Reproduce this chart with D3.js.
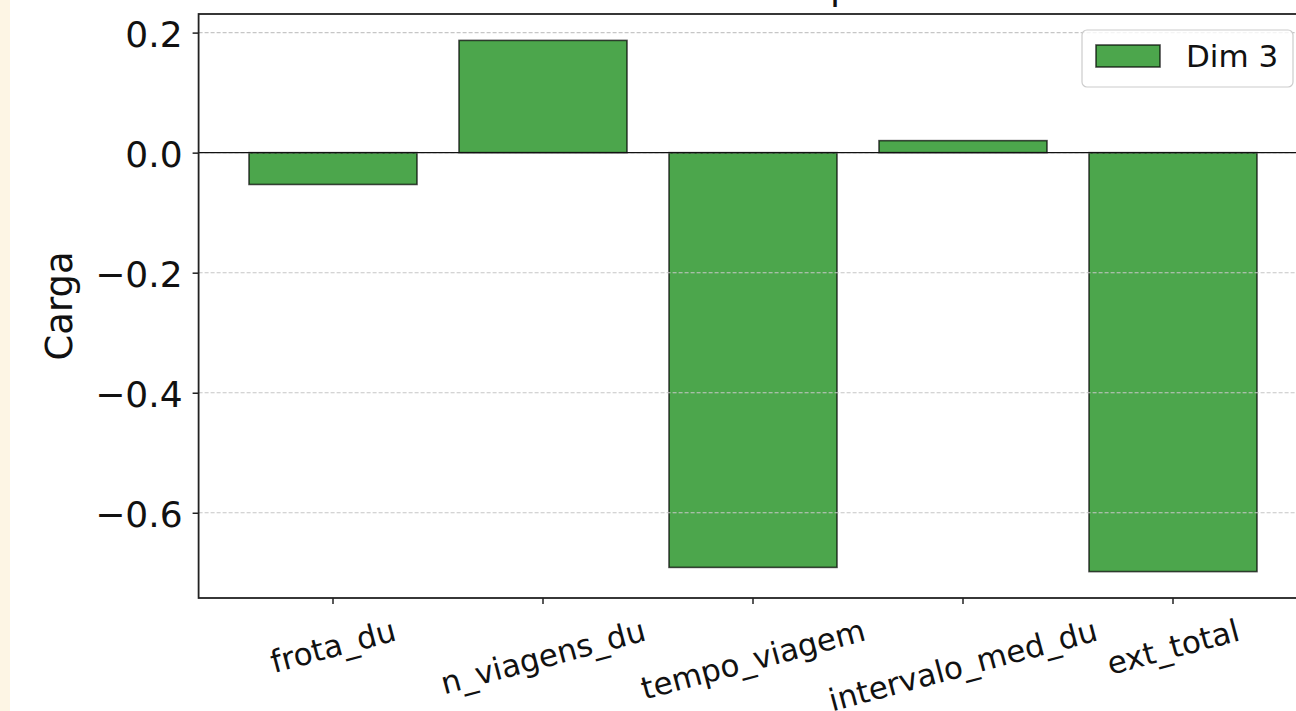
<!DOCTYPE html>
<html>
<head>
<meta charset="utf-8">
<script src="https://cdn.jsdelivr.net/npm/d3@7"></script>
<style>
  html, body { margin: 0; padding: 0; background: #ffffff; }
  svg { display: block; font-family: "DejaVu Sans", sans-serif; }
</style>
</head>
<body>
<svg id="chart" width="1296" height="711"></svg>
<script>
// ---- data ----
const categories = ["frota_du", "n_viagens_du", "tempo_viagem", "intervalo_med_du", "ext_total"];
const dim3Values = [-0.053, 0.187, -0.691, 0.020, -0.698];
const yTickValues = [0.2, 0.0, -0.2, -0.4, -0.6];
const seriesName = "Dim 3";
const yLabel = "Carga";
const titleText = "Dimensão 3 — importância das variáveis";

// ---- layout ----
const W = 1296, H = 711;
const plot = { left: 198.6, right: 1307.4, top: 14, bottom: 598 };
const svg = d3.select("#chart");

// left cream strip
svg.append("rect").attr("x", 0).attr("y", 0).attr("width", 10).attr("height", H).attr("fill", "#fdf5e4");

const x = d3.scaleBand().domain(categories).range([plot.left, plot.right])
  .paddingInner(0.2).paddingOuter(0.24);
const y = d3.scaleLinear().domain([-0.742, 0.231]).range([plot.bottom, plot.top]);

// bars
svg.append("g").selectAll("rect").data(categories).join("rect")
  .attr("x", d => x(d))
  .attr("width", x.bandwidth())
  .attr("y", (d, i) => y(Math.max(0, dim3Values[i])))
  .attr("height", (d, i) => Math.abs(y(dim3Values[i]) - y(0)))
  .attr("fill", "green").attr("fill-opacity", 0.7)
  .attr("stroke", "black").attr("stroke-opacity", 0.7).attr("stroke-width", 1.6);

// grid (above bars, like matplotlib)
svg.append("g").selectAll("line").data(yTickValues).join("line")
  .attr("x1", plot.left).attr("x2", plot.right)
  .attr("y1", d => y(d)).attr("y2", d => y(d))
  .attr("stroke", "#c6c6c6").attr("stroke-width", 1.1).attr("stroke-dasharray", "4,2");

// zero line
svg.append("line").attr("x1", plot.left).attr("x2", plot.right)
  .attr("y1", y(0)).attr("y2", y(0)).attr("stroke", "#111").attr("stroke-width", 1.3);

// spines
svg.append("rect").attr("x", plot.left).attr("y", plot.top)
  .attr("width", plot.right - plot.left).attr("height", plot.bottom - plot.top)
  .attr("fill", "none").attr("stroke", "#222").attr("stroke-width", 1.8);

// y axis
const fmt = v => d3.format(".1f")(v).replace("-", "\u2212");
const yAxis = d3.axisLeft(y).tickValues(yTickValues).tickSize(6).tickPadding(10).tickFormat(fmt);
const gy = svg.append("g").attr("transform", `translate(${plot.left},0)`).call(yAxis);
gy.select(".domain").remove();
gy.selectAll(".tick line").attr("stroke", "#222").attr("stroke-width", 1.5);
gy.selectAll(".tick text").attr("font-size", 36).attr("fill", "#111").attr("dy", 14)
  .attr("font-family", "DejaVu Sans");

// x axis
const xAxis = d3.axisBottom(x).tickSize(6).tickFormat("");
const gx = svg.append("g").attr("transform", `translate(0,${plot.bottom})`).call(xAxis);
gx.select(".domain").remove();
gx.selectAll(".tick line").attr("stroke", "#222").attr("stroke-width", 1.5);

// rotated x labels (ha=center, rotation=15)
const xfs = 31, ang = 15 * Math.PI / 180;
const xl = svg.append("g").selectAll("text").data(categories).join("text")
  .text(d => d)
  .attr("font-size", xfs).attr("fill", "#111")
  .attr("text-anchor", "middle").attr("dominant-baseline", "central");
xl.each(function(d) {
  const L = this.getComputedTextLength();
  const h = L * Math.sin(ang) + 1.16 * xfs * Math.cos(ang);
  const cx = x(d) + x.bandwidth() / 2;
  const cy = plot.bottom + 6 + 8 + h / 2;
  d3.select(this).attr("transform", `translate(${cx},${cy}) rotate(-15)`);
});

// y label
svg.append("text").text(yLabel)
  .attr("transform", `translate(72,${(plot.top + plot.bottom) / 2}) rotate(-90)`)
  .attr("text-anchor", "middle").attr("font-size", 37).attr("fill", "#111");

// title (mostly above the visible frame; only descenders show)
const t = svg.append("text").text(titleText).attr("font-size", 37).attr("fill", "#111").attr("y", -1.5);
const idx = titleText.indexOf("portância");
const pre = t.node().getSubStringLength(0, idx);
t.attr("x", 830 - pre);

// legend
const lg = svg.append("g");
lg.append("rect").attr("x", 1082).attr("y", 30).attr("width", 211).attr("height", 57).attr("rx", 5)
  .attr("fill", "white").attr("fill-opacity", 0.8).attr("stroke", "#cccccc").attr("stroke-width", 1.2);
lg.append("rect").attr("x", 1096).attr("y", 45).attr("width", 64).attr("height", 22)
  .attr("fill", "green").attr("fill-opacity", 0.7)
  .attr("stroke", "black").attr("stroke-opacity", 0.7).attr("stroke-width", 1.6);
lg.append("text").text(seriesName).attr("x", 1186).attr("y", 67)
  .attr("font-size", 31).attr("fill", "#111");
</script>
</body>
</html>
